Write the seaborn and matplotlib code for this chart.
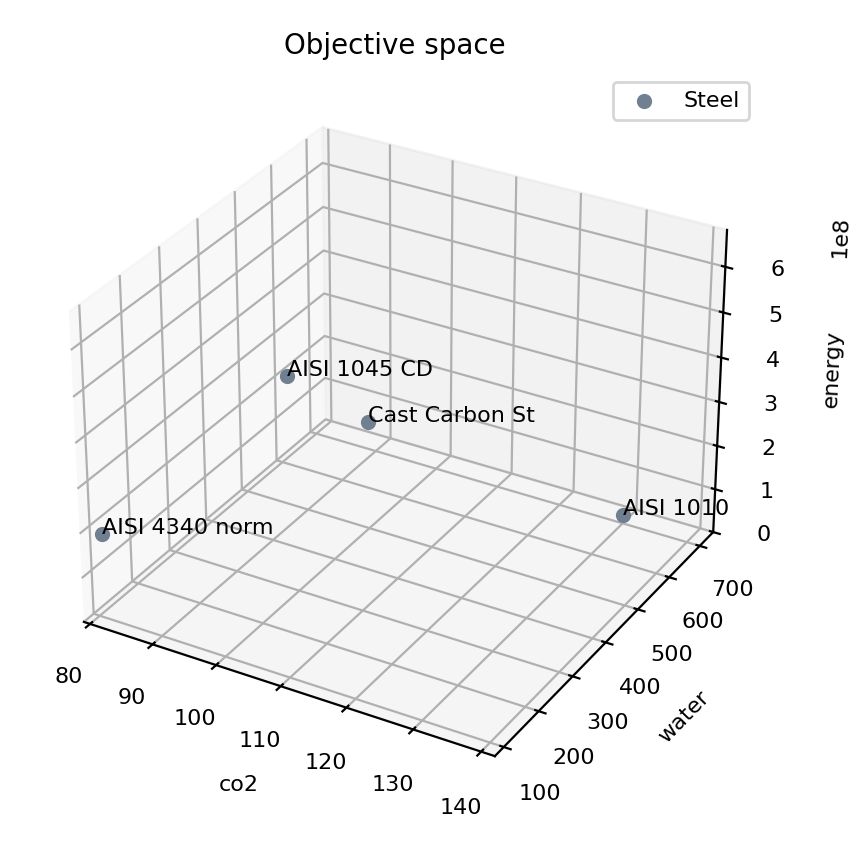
import numpy as np
import seaborn as sns
import matplotlib
matplotlib.use("Agg")
import matplotlib.pyplot as plt

names = ["AISI 1045 CD", "Cast Carbon St", "AISI 4340 norm", "AISI 1010"]
co2 = [110, 97, 81, 130]
water = [105, 550, 100, 700]
energy = [6.5e8, 2.0e8, 1.9e8, 0.2e8]

color = sns.color_palette(["slategray"])[0]

fig = plt.figure(figsize=(4.33, 4.205), dpi=200)
ax = fig.add_axes([0.018, 0.046, 0.875, 0.87], projection="3d")
ax.scatter(co2, water, energy, color=color, s=20, depthshade=False, label="Steel")
for n, x, y, z in zip(names, co2, water, energy):
    ax.text(x, y, z, n, fontsize=8)
ax.set_xlim(79, 142)
ax.set_ylim(75, 745)
ax.set_zlim(0, 6.8e8)
ax.set_xlabel("co2", fontsize=8)
ax.set_ylabel("water", fontsize=8)
ax.set_zlabel("energy", fontsize=8)
ax.tick_params(labelsize=8)
ax.zaxis.get_offset_text().set_fontsize(8)
ax.set_title("Objective space", fontsize=10)
ax.legend(fontsize=8)
plt.savefig("out.png", dpi=200)
